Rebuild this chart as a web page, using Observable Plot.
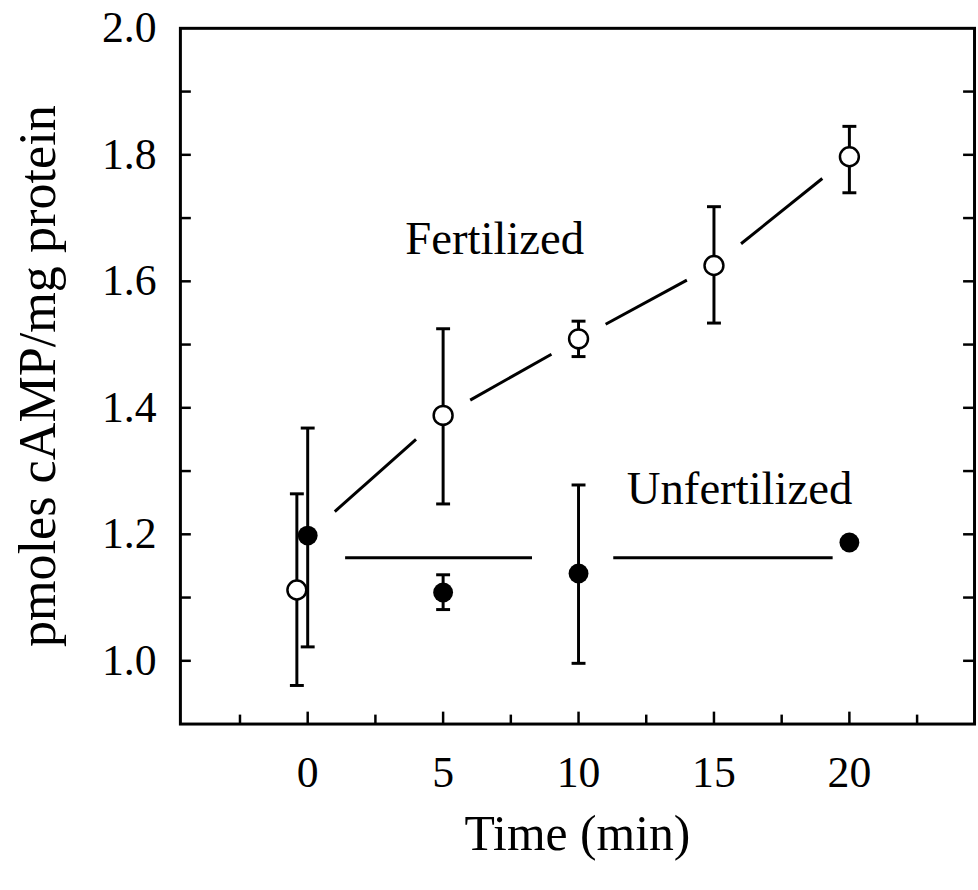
<!DOCTYPE html>
<html><head><meta charset="utf-8">
<script src="https://cdn.jsdelivr.net/npm/d3@7"></script>
<script src="https://cdn.jsdelivr.net/npm/@observablehq/plot@0.6"></script>
<style>html,body{margin:0;padding:0;overflow:hidden;background:#fff}</style>
</head><body><div id="chart"></div>
<script>
// Fertilized (open circles)
const fertTime = [-0.4, 5, 10, 15, 20];
const fertMean = [1.112, 1.388, 1.509, 1.625, 1.797];
const fertLow  = [0.961, 1.248, 1.481, 1.534, 1.740];
const fertHigh = [1.264, 1.525, 1.537, 1.718, 1.845];

// Unfertilized (filled circles)
const unfTime = [0, 5, 10, 20];
const unfMean = [1.198, 1.108, 1.138, 1.187];
const unfLow  = [1.022, 1.081, 0.996, null];
const unfHigh = [1.368, 1.136, 1.278, null];

// Fertilized connecting line (starts from the common time-0 value)
const fertLineTime  = [0, 5, 10, 15, 20];
const fertLineValue = [1.198, 1.388, 1.509, 1.625, 1.797];

// Unfertilized reference line, broken around the points
const unfLineLevel = 1.163;
const unfLineStart = [1.4, 11.3];
const unfLineEnd   = [8.3, 19.4];

// Axes
const xMajorTicks = [0, 5, 10, 15, 20];
const xMinorTicks = [-2.5, 2.5, 7.5, 12.5, 17.5, 22.5];
const yTickLabels = [1.0, 1.2, 1.4, 1.6, 1.8, 2.0];
const yTicks = [1.0, 1.1, 1.2, 1.3, 1.4, 1.5, 1.6, 1.7, 1.8, 1.9];

const labels = [
  {text: "Fertilized", x: 3.6, y: 1.667},
  {text: "Unfertilized", x: 11.78, y: 1.271}
];

// Build tables
const fert = fertTime.map((t, i) => ({t, v: fertMean[i], lo: fertLow[i], hi: fertHigh[i]}));
const unf = unfTime.map((t, i) => ({t, v: unfMean[i], lo: unfLow[i], hi: unfHigh[i]}));
const errs = [...fert, ...unf].filter(d => d.lo != null);
const caps = errs.flatMap(d => [{t: d.t, v: d.lo}, {t: d.t, v: d.hi}]);

const gapFrac = 0.2; // visual gap left near each marker
const fertSegs = d3.pairs(fertLineTime.map((t, i) => ({t, v: fertLineValue[i]}))).map(([a, b]) => ({
  x1: a.t + gapFrac * (b.t - a.t), y1: a.v + gapFrac * (b.v - a.v),
  x2: b.t - gapFrac * (b.t - a.t), y2: b.v - gapFrac * (b.v - a.v)
}));
const unfSegs = unfLineStart.map((s, i) => ({x1: s, x2: unfLineEnd[i], y: unfLineLevel}));

const W = 984, H = 890, mL = 181, mR = W - 980, mT = 28, mB = 162;
const innerW = W - mL - mR, innerH = H - mT - mB;
const FONT = "'Liberation Serif', 'Times New Roman', serif";

const capSymbol = {draw(ctx) { ctx.moveTo(-7, 0); ctx.lineTo(7, 0); }};

const chart = Plot.plot({
  width: W, height: H,
  marginLeft: mL, marginRight: mR, marginTop: mT, marginBottom: mB,
  style: {fontFamily: FONT, background: "#fff", color: "#000", overflow: "visible"},
  x: {domain: [-4.7, 24.62]},
  y: {domain: [0.9, 2.0]},
  marks: [
    // lines
    Plot.link(fertSegs, {x1: "x1", y1: "y1", x2: "x2", y2: "y2", stroke: "#000", strokeWidth: 3}),
    Plot.ruleY(unfSegs, {y: "y", x1: "x1", x2: "x2", stroke: "#000", strokeWidth: 3}),
    // error bars
    Plot.ruleX(errs, {x: "t", y1: "lo", y2: "hi", stroke: "#000", strokeWidth: 3}),
    Plot.dot(caps, {x: "t", y: "v", symbol: capSymbol, fill: "none", stroke: "#000", strokeWidth: 3}),
    // markers
    Plot.dot(unf, {x: "t", y: "v", r: 10, fill: "#000", stroke: "none"}),
    Plot.dot(fert, {x: "t", y: "v", r: 9.5, fill: "#fff", stroke: "#000", strokeWidth: 2.5}),
    // annotations
    Plot.text(labels, {x: "x", y: "y", text: "text", textAnchor: "start", fontSize: 47, fontFamily: FONT, fill: "#000"}),
    // inward ticks
    Plot.tickY(yTicks, {y: d => d, insetRight: innerW - 11, stroke: "#000", strokeWidth: 2.5}),
    Plot.tickY(yTicks, {y: d => d, insetLeft: innerW - 11, stroke: "#000", strokeWidth: 2.5}),
    Plot.tickX(xMajorTicks, {x: d => d, insetTop: innerH - 12, stroke: "#000", strokeWidth: 2.5}),
    Plot.tickX(xMinorTicks, {x: d => d, insetTop: innerH - 9, stroke: "#000", strokeWidth: 2.5}),
    // axes
    Plot.axisY(yTickLabels, {tickSize: 0, tickPadding: 24, tickFormat: d => d.toFixed(1), fontSize: 44, fontFamily: FONT, label: null}),
    Plot.axisX(xMajorTicks, {tickSize: 0, tickPadding: 32, tickFormat: d => String(d), fontSize: 44, fontFamily: FONT, label: null}),
    Plot.text(["Time (min)"], {frameAnchor: "bottom", dy: 127, fontSize: 50, fontFamily: FONT, fill: "#000"}),
    Plot.text(["pmoles cAMP/mg protein"], {frameAnchor: "left", textAnchor: "middle", dx: -143, rotate: -90, fontSize: 52.5, fontFamily: FONT, fill: "#000"}),
    Plot.frame({stroke: "#000", strokeWidth: 3})
  ]
});
document.getElementById("chart").appendChild(chart);
</script>
</body></html>
